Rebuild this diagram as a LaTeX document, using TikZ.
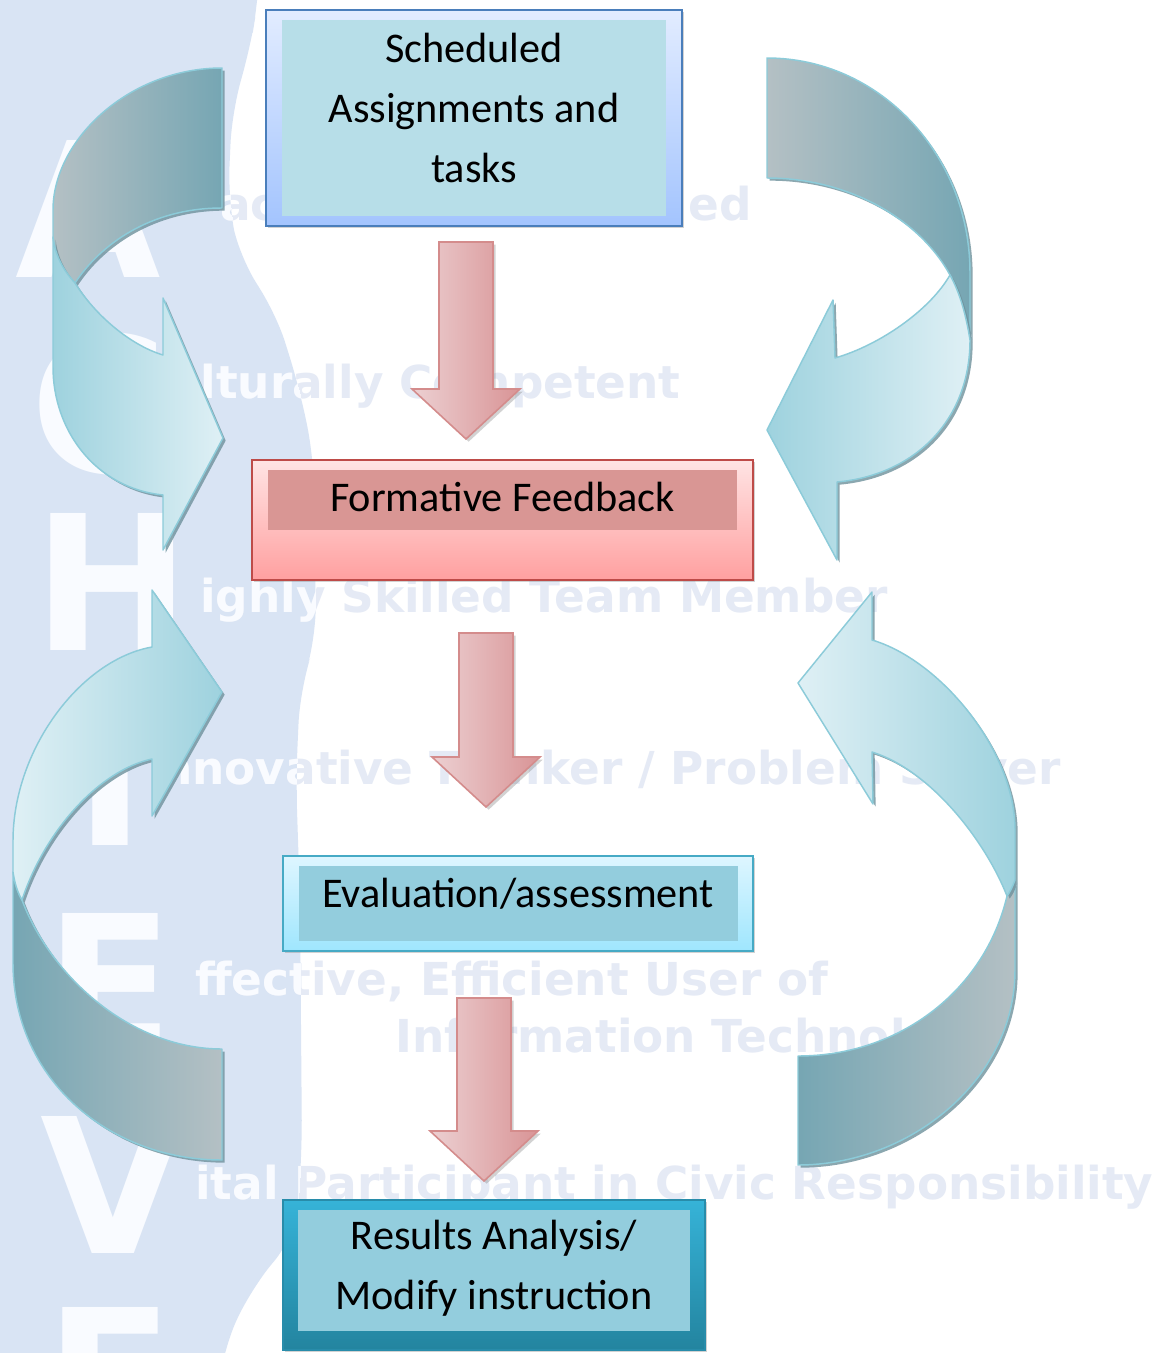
\documentclass[tikz,border=0pt]{standalone}
\usepackage{fontspec}
\setmainfont{Carlito}
\newfontfamily\wmfamily{DejaVu Sans}
\usetikzlibrary{calc,shadows}

\definecolor{wmblue}{RGB}{217,228,244}
\definecolor{wmgray}{RGB}{229,234,245}
\definecolor{wmwhite}{RGB}{249,251,255}
\definecolor{ribedge}{RGB}{140,203,217}
\definecolor{ribshadow}{RGB}{110,145,156}
\definecolor{backlight}{RGB}{180,192,196}
\definecolor{backdark}{RGB}{118,166,179}
\definecolor{frontlight}{RGB}{223,240,245}
\definecolor{frontdark}{RGB}{158,210,222}
\definecolor{pinkL}{RGB}{236,208,210}
\definecolor{pinkM}{RGB}{243,226,228}
\definecolor{pinkR}{RGB}{217,148,150}
\definecolor{pinkedge}{RGB}{212,140,140}
\definecolor{schedline}{RGB}{74,126,187}
\definecolor{schedtop}{RGB}{226,236,255}
\definecolor{schedbot}{RGB}{163,196,254}
\definecolor{schedin}{RGB}{183,222,232}
\definecolor{formline}{RGB}{190,75,72}
\definecolor{formtop}{RGB}{255,228,228}
\definecolor{formbot}{RGB}{255,160,160}
\definecolor{formin}{RGB}{217,150,148}
\definecolor{evalline}{RGB}{70,170,197}
\definecolor{evaltop}{RGB}{222,246,255}
\definecolor{evalbot}{RGB}{159,230,254}
\definecolor{evalin}{RGB}{147,205,221}
\definecolor{resline}{RGB}{40,140,170}
\definecolor{restop}{RGB}{54,179,216}
\definecolor{resbot}{RGB}{35,132,159}

\newdimen\px \px=0.75pt

\tikzset{
  box/.style={draw, line width=1.5pt, inner sep=0pt,
    drop shadow={shadow xshift=1.5pt, shadow yshift=-1.5pt, opacity=.35}},
  inbox/.style={inner sep=0pt},
  lbl/.style={align=center, inner sep=0pt, font=\fontsize{31.7}{45}\selectfont},
  bigletter/.style={anchor=base west, inner sep=0pt, text=wmwhite,
    font=\wmfamily\bfseries\fontsize{141}{141}\selectfont},
  wmline/.style={anchor=base west, inner sep=0pt,
    font=\wmfamily\bfseries\fontsize{34}{34}\selectfont},
  ribbon/.style={draw=ribedge, line width=1.1pt, line join=round,
    drop shadow={shadow xshift=2pt, shadow yshift=-2pt, fill=ribshadow, opacity=.8}},
  pinkarrow/.style={draw=pinkedge, line width=1.2pt,
    left color=pinkL, middle color=pinkM, right color=pinkR,
    drop shadow={shadow xshift=2pt, shadow yshift=-2pt, opacity=.35}},
}

% emblem area on the left
\newcommand\emblem{(-60,-60) -- (262,-60) -- (258,0) -- (250,50) -- (232,110)
  -- (228,200) -- (240,260) -- (275,310) -- (300,390) -- (314,460) -- (316,640)
  -- (300,690) -- (296,780) -- (300,900) -- (302,1150) -- (296,1235)
  -- (250,1290) -- (222,1353) -- (215,1420) -- (-60,1420) -- cycle}

% block arrow between two boxes: from, to, x offset, top gap, tip gap
\newcommand\flowarrow[5]{%
  \path[pinkarrow] let \p1=($(#1.south)+(#3,#4)$), \p2=($(#2.north)+(#3,-#5)$) in
    (\x1-20.25pt,\y1) -- (\x1+20.25pt,\y1) -- (\x1+20.25pt,\y2+37.5pt)
    -- (\x1+40.5pt,\y2+37.5pt) -- (\x1,\y2) -- (\x1-40.5pt,\y2+37.5pt)
    -- (\x1-20.25pt,\y2+37.5pt) -- cycle;}

\begin{document}
\begin{tikzpicture}[x=0.75pt, y=-0.75pt]
  \useasboundingbox (0,0) rectangle (1152,1353);
  \fill[white] (0,0) rectangle (1152,1353);

  % background motto
  \begin{scope}
    \clip (0,0) rectangle (1152,1353);
    \fill[wmblue, rounded corners=25] \emblem;
    \foreach \x/\y/\l [count=\i] in {15/277/A, 30/472/C, 33/650/H, 75/845/I,
        45/1050/E, 40/1253/V, 45/1444/E}
      \node[bigletter] (big\i) at (\x,\y) {\l};
  \end{scope}
  \foreach \x/\y/\t [count=\i] in {220/220/ac, 688/220/ed,
      168/398/{ulturally Competent}, 200/612/{ighly Skilled Team Member},
      160/784/{nnovative Thinker / Problem Solver},
      195/995/{ffective, Efficient User of}, 395/1052/{Information Technology},
      195/1199/{ital Participant in Civic Responsibility}}
    \node[wmline, text=wmgray] (line\i) at (\x,\y) {\t};
  \begin{scope}
    \clip[rounded corners=25] \emblem;
    \foreach \x/\y/\t [count=\i] in {220/220/ac,
        168/398/{ulturally Competent}, 200/612/{ighly Skilled Team Member},
        160/784/{nnovative Thinker / Problem Solver},
        195/995/{ffective, Efficient User of},
        195/1199/{ital Participant in Civic Responsibility}}
      \node[wmline, text=wmwhite] (wline\i) at (\x,\y) {\t};
  \end{scope}

  % top left
  \path[ribbon, left color=backlight, right color=backdark]
    (222,68) .. controls (129,68) and (53,140) .. (53,210) -- (53,237)
    .. controls (55,255) and (63,270) .. (75,283)
    .. controls (100,245) and (150,208) .. (222,208) -- cycle;
  \path[ribbon, left color=frontdark, right color=frontlight]
    (53,237) -- (53,367) .. controls (53,430) and (95,488) .. (163,495)
    -- (163,550) -- (223,438) -- (163,298) -- (163,355)
    .. controls (130,345) and (95,315) .. (75,283)
    .. controls (63,270) and (55,255) .. (53,237) -- cycle;

  % top right
  \path[ribbon, left color=backlight, right color=backdark]
    (767,58) .. controls (879,58) and (970,154) .. (970,273) -- (970,340)
    .. controls (966,315) and (960,293) .. (950,275)
    .. controls (920,220) and (850,178) .. (767,178) -- cycle;
  \path[ribbon, left color=frontdark, right color=frontlight]
    (970,340) .. controls (970,420) and (915,475) .. (837,482)
    -- (837,560) -- (767,430) -- (833,300) -- (835,358)
    .. controls (880,345) and (930,310) .. (950,275)
    .. controls (960,293) and (966,315) .. (970,340) -- cycle;

  % bottom left
  \path[ribbon, left color=backdark, right color=backlight]
    (13,872) -- (13,963) .. controls (13,1080) and (110,1160) .. (222,1160)
    -- (222,1049) .. controls (130,1049) and (50,975) .. (22,900)
    .. controls (18,893) and (15,885) .. (13,872) -- cycle;
  \path[ribbon, left color=frontlight, right color=frontdark]
    (13,872) -- (13,841) .. controls (13,750) and (80,660) .. (152,647)
    -- (152,590) -- (222,692) -- (152,816) -- (152,759)
    .. controls (100,770) and (45,830) .. (22,900)
    .. controls (18,893) and (15,885) .. (13,872) -- cycle;

  % bottom right
  \path[ribbon, left color=backdark, right color=backlight]
    (1015,880) -- (1015,970) .. controls (1015,1080) and (910,1165) .. (798,1165)
    -- (798,1056) .. controls (900,1056) and (985,990) .. (1007,896)
    .. controls (1010,892) and (1012,888) .. (1015,880) -- cycle;
  \path[ribbon, left color=frontlight, right color=frontdark]
    (1015,880) -- (1015,830) .. controls (1015,750) and (940,660) .. (872,640)
    -- (872,592) -- (798,683) -- (873,804) -- (872,752)
    .. controls (930,770) and (985,840) .. (1007,896)
    .. controls (1010,892) and (1012,888) .. (1015,880) -- cycle;

  % boxes
  \node[box, draw=schedline, top color=schedtop, bottom color=schedbot,
    minimum width=416\px, minimum height=216\px] (sched) at (474,118) {};
  \node[inbox, fill=schedin, minimum width=384\px, minimum height=196\px]
    (schedin) at (sched) {};
  \node[lbl] (schedtxt) at ($(sched)+(0,-10)$) {Scheduled\\Assignments and\\tasks};

  \node[box, draw=formline, top color=formtop, bottom color=formbot,
    minimum width=501\px, minimum height=120\px] (form) at (502.5,520) {};
  \node[inbox, fill=formin, minimum width=469\px, minimum height=60\px]
    (formin) at ($(form)+(0,-20)$) {};
  \node[lbl] (formtxt) at ($(form)+(0,-23)$) {Formative Feedback};

  \node[box, draw=evalline, top color=evaltop, bottom color=evalbot,
    minimum width=470\px, minimum height=95\px] (eval) at (518,903.5) {};
  \node[inbox, fill=evalin, minimum width=439\px, minimum height=75\px]
    (evalin) at (eval) {};
  \node[lbl] (evaltxt) at ($(eval)+(0,-10)$) {Evaluation/assessment};

  \node[box, draw=resline, top color=restop, bottom color=resbot,
    minimum width=422\px, minimum height=150\px] (res) at (494,1275) {};
  \node[inbox, fill=evalin, minimum width=392\px, minimum height=121\px]
    (resin) at ($(res)+(0,-4.5)$) {};
  \node[lbl] (restxt) at ($(res)+(0,-7)$) {Results Analysis/\\Modify instruction};

  \flowarrow{sched}{form}{-8}{15}{20}
  \flowarrow{form}{eval}{-16.5}{52}{48}
  \flowarrow{eval}{res}{-34}{46}{18}
\end{tikzpicture}
\end{document}
